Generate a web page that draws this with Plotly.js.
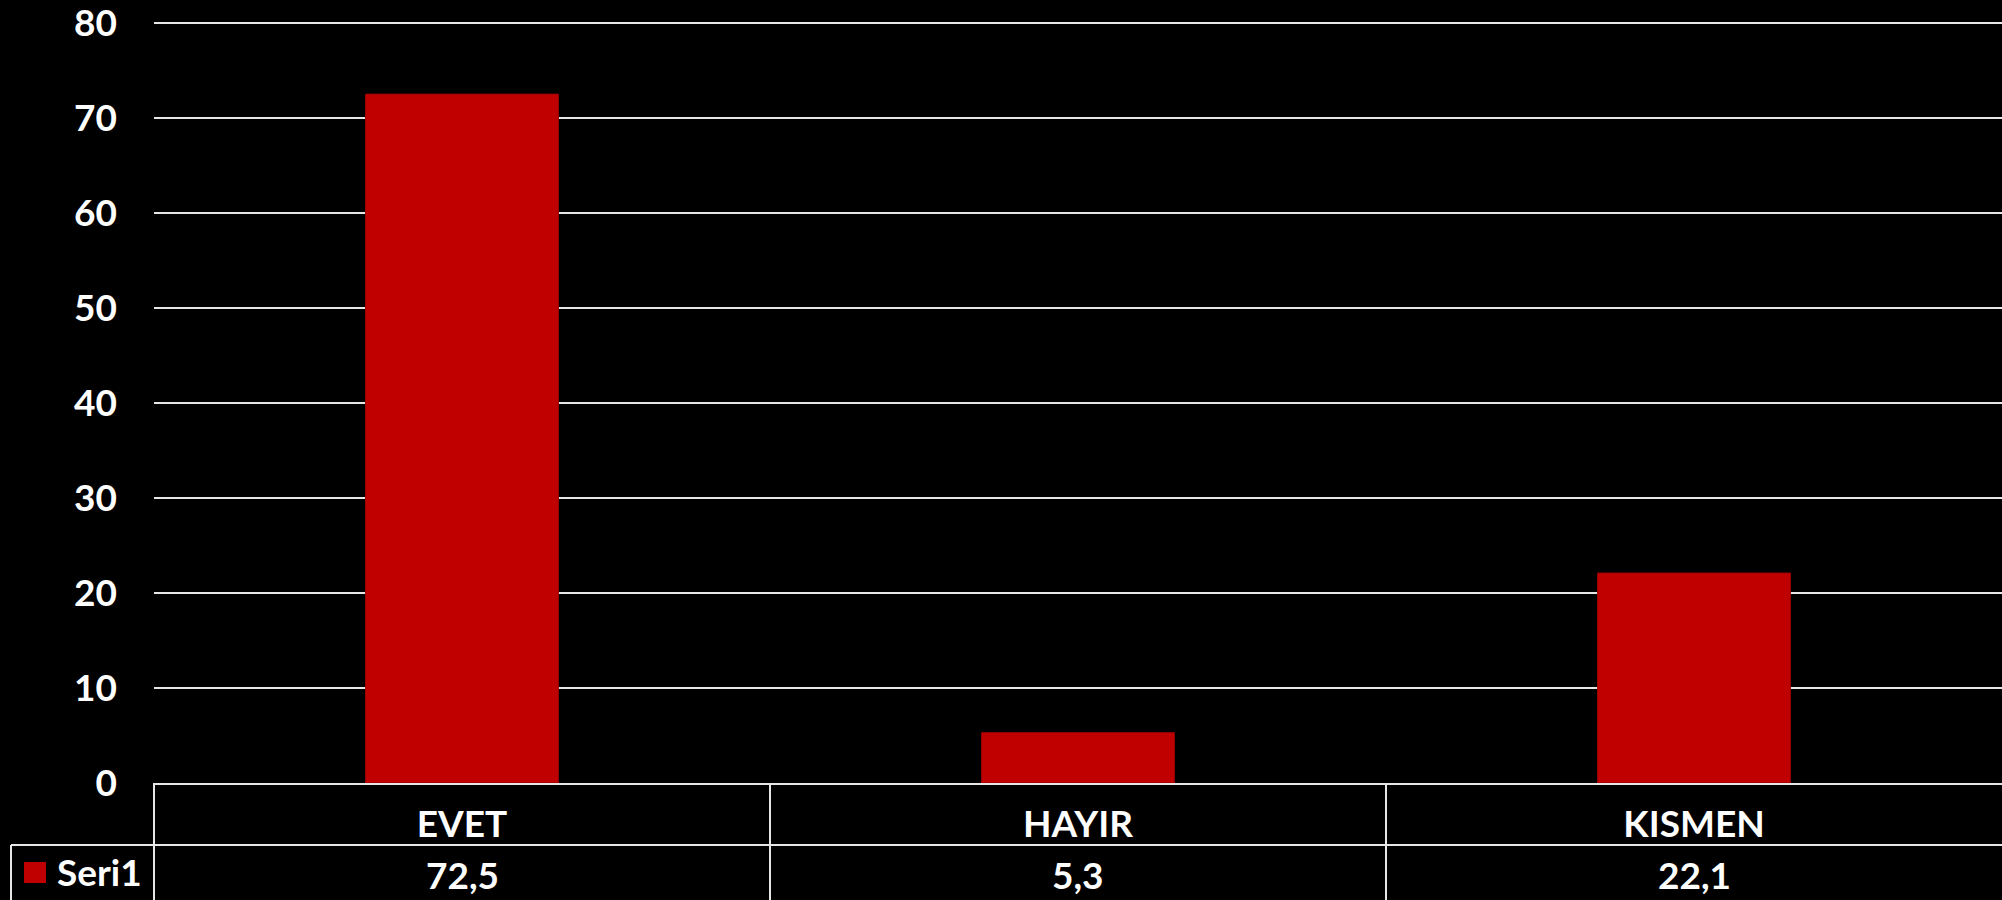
<!DOCTYPE html>
<html>
<head>
<meta charset="utf-8">
<script src="https://cdn.plot.ly/plotly-3.0.1.min.js"></script>
<style>
html,body{margin:0;padding:0;background:#000;}
#chart{width:2002px;height:900px;}
</style>
</head>
<body>
<div id="chart"></div>
<script>
// ---- data ----
const categories = ["EVET", "HAYIR", "KISMEN"];
const seriesName = "Seri1";
const values = [72.5, 5.3, 22.1];
const yTickValues = [0, 10, 20, 30, 40, 50, 60, 70, 80];

// ---- style ----
const barColor = "#C00000";
const lineColor = "#e6e6e6";
const fontFamily = "Lato, 'Open Sans', 'DejaVu Sans', sans-serif";
const fontSize = 37;

// geometry (plot area: x 154..2002, y 20..783)
const plotH = 763, plotW = 1848;
const py = px => (783 - px) / plotH;   // pixel y -> paper y
const ppx = px => (px - 154) / plotW;  // pixel x -> paper x

const fmt = v => String(v).replace('.', ',');

const trace = {
  type: 'bar',
  x: categories,
  y: values,
  name: seriesName,
  marker: { color: barColor, line: { color: '#9a0000', width: 1 } },
  hoverinfo: 'skip',
  showlegend: false
};

const shapes = [];
const lineStyle = { color: lineColor, width: 2 };
const tableBottom = py(905);
// row divider between category row and value row
shapes.push({ type: 'line', xref: 'paper', yref: 'paper', x0: ppx(11), x1: 1, y0: py(845), y1: py(845), line: lineStyle, layer: 'above' });
// left edge of legend cell
shapes.push({ type: 'line', xref: 'paper', yref: 'paper', x0: ppx(11), x1: ppx(11), y0: py(845), y1: tableBottom, line: lineStyle, layer: 'above' });
// vertical separators at category boundaries
for (let i = 0; i < categories.length; i++) {
  const xb = i / categories.length;
  shapes.push({ type: 'line', xref: 'paper', yref: 'paper', x0: xb, x1: xb, y0: 0, y1: tableBottom, line: lineStyle, layer: 'above' });
}
// legend key
shapes.push({ type: 'rect', xref: 'paper', yref: 'paper', x0: ppx(24), x1: ppx(46), y0: py(862), y1: py(883), fillcolor: barColor, line: { width: 0 }, layer: 'above' });

const annotations = [];
// series name in legend cell
annotations.push({
  xref: 'paper', yref: 'paper', x: ppx(55), y: py(872), xanchor: 'left', yanchor: 'middle',
  text: seriesName, showarrow: false,
  font: { family: fontFamily, size: fontSize, color: '#ffffff', weight: 'bold' }
});
// value row
categories.forEach((c, i) => {
  annotations.push({
    xref: 'x', yref: 'paper', x: c, y: py(874), xanchor: 'center', yanchor: 'middle',
    text: fmt(values[i]), showarrow: false,
    font: { family: fontFamily, size: fontSize, color: '#ffffff', weight: 'bold' }
  });
});

const layout = {
  width: 2002, height: 900,
  paper_bgcolor: '#000000', plot_bgcolor: '#000000',
  margin: { l: 154, r: 0, t: 20, b: 117, pad: 0 },
  bargap: 0.687,
  showlegend: false,
  font: { family: fontFamily, size: fontSize, color: '#ffffff', weight: 'bold' },
  xaxis: {
    type: 'category',
    showgrid: false,
    showline: true, linecolor: lineColor, linewidth: 2,
    ticks: '', tickfont: { family: fontFamily, size: fontSize, color: '#ffffff', weight: 'bold' },
    ticklabelstandoff: 8,
    zeroline: false,
    fixedrange: true
  },
  yaxis: {
    range: [0, 80.3],
    tickvals: yTickValues,
    ticktext: yTickValues.map(String),
    showgrid: true, gridcolor: lineColor, gridwidth: 2,
    zeroline: false,
    showline: false,
    ticks: '',
    ticklabelstandoff: 36,
    ticklabeloverflow: 'allow',
    tickfont: { family: fontFamily, size: fontSize, color: '#ffffff', weight: 'bold' },
    fixedrange: true
  },
  shapes: shapes,
  annotations: annotations
};

Plotly.newPlot('chart', [trace], layout, { displayModeBar: false, staticPlot: true });
</script>
</body>
</html>
